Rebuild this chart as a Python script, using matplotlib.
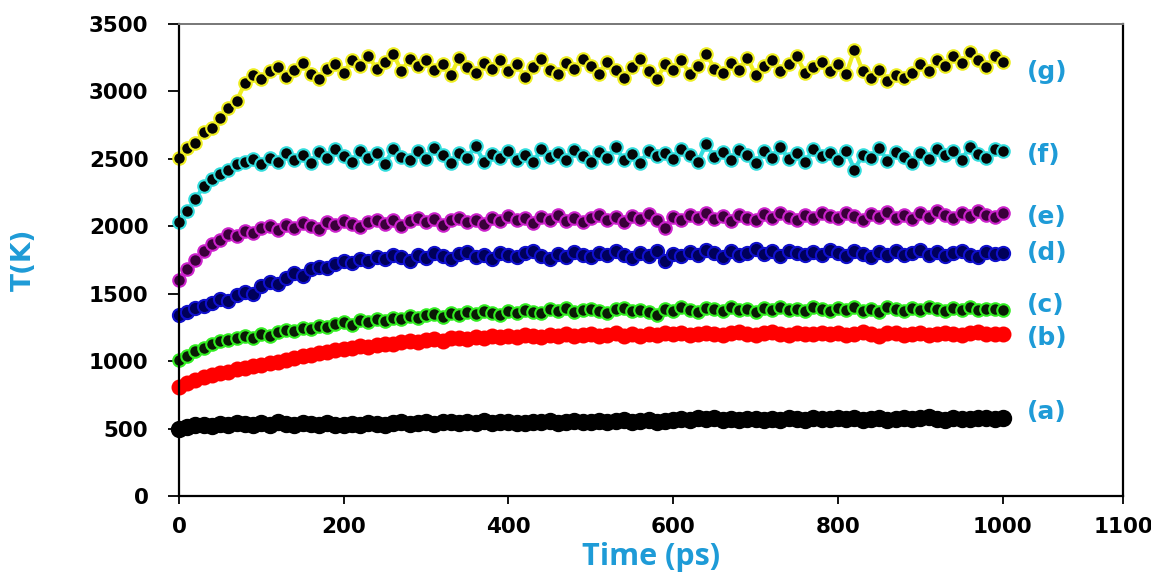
import matplotlib
matplotlib.use('Agg')
import matplotlib.pyplot as plt
import numpy as np

# time axis (ps), one sample every 10 ps
time_ps = np.arange(0, 1001, 10)

# temperature traces (K)
T_a = [500, 515, 525, 530, 520, 535, 528, 540, 532, 525,
       538, 530, 545, 535, 528, 540, 533, 526, 538, 530,
       524, 536, 529, 541, 533, 527, 539, 545, 532, 540,
       548, 537, 552, 545, 538, 550, 543, 556, 540, 548,
       552, 544, 538, 550, 546, 553, 541, 549, 556, 545,
       551, 558, 546, 553, 560, 548, 555, 562, 551, 558,
       565, 572, 560, 578, 568, 575, 563, 570, 566, 574,
       568, 561, 573, 566, 578, 570, 562, 575, 568, 572,
       580, 569, 576, 564, 571, 578, 567, 574, 580, 570,
       576, 585, 571, 566, 579, 573, 568, 581, 575, 570,
       578]
T_b = [805, 838, 862, 880, 900, 915, 922, 940, 948, 962,
       972, 985, 995, 1012, 1020, 1038, 1045, 1060, 1070, 1082,
       1090, 1098, 1110, 1105, 1122, 1130, 1126, 1140, 1148, 1142,
       1155, 1162, 1150, 1168, 1175, 1165, 1180, 1172, 1185, 1178,
       1190, 1182, 1195, 1186, 1178, 1192, 1188, 1198, 1185, 1194,
       1200, 1188, 1196, 1205, 1190, 1198, 1185, 1202, 1195, 1208,
       1198, 1210, 1195, 1204, 1212, 1200, 1192, 1206, 1215, 1200,
       1196, 1208, 1218, 1202, 1195, 1210, 1204, 1198, 1212, 1200,
       1207, 1195, 1203, 1214, 1198, 1190, 1205, 1211, 1196, 1202,
       1208, 1194, 1200, 1212, 1203, 1196, 1209, 1215, 1198, 1204,
       1200]
T_c = [1005, 1040, 1075, 1100, 1130, 1148, 1160, 1175, 1185, 1170,
       1200, 1190, 1215, 1228, 1220, 1245, 1238, 1260, 1252, 1275,
       1290, 1270, 1305, 1292, 1315, 1300, 1322, 1310, 1335, 1318,
       1340, 1352, 1330, 1360, 1345, 1368, 1350, 1372, 1358, 1345,
       1375, 1360, 1382, 1368, 1355, 1385, 1370, 1392, 1362, 1378,
       1390, 1372, 1358, 1385, 1396, 1370, 1382, 1365, 1340, 1388,
       1375, 1398, 1380, 1366, 1392, 1385, 1372, 1400, 1378, 1390,
       1368, 1395, 1382, 1405, 1376, 1390, 1370, 1398, 1385, 1372,
       1395, 1380, 1402, 1375, 1390, 1365, 1398, 1385, 1370, 1392,
       1378, 1400, 1385, 1370, 1395, 1382, 1405, 1376, 1390, 1385,
       1380]
T_d = [1340, 1365, 1395, 1410, 1430, 1460, 1445, 1490, 1515, 1500,
       1560, 1590, 1575, 1620, 1650, 1635, 1680, 1700, 1690, 1720,
       1745, 1725, 1760, 1740, 1775, 1755, 1790, 1770, 1745, 1785,
       1765, 1800, 1780, 1755, 1795, 1810, 1775, 1790, 1760, 1805,
       1785, 1770, 1800, 1815, 1780, 1760, 1795, 1775, 1810, 1790,
       1770, 1805, 1785, 1820, 1790, 1765, 1800, 1780, 1815, 1745,
       1795, 1780, 1810, 1785, 1825, 1800, 1775, 1815, 1790, 1805,
       1830, 1795, 1815, 1780, 1820, 1800, 1785, 1810, 1790, 1825,
       1800, 1780, 1815, 1795, 1770, 1810, 1790, 1820, 1785, 1805,
       1825, 1790, 1810, 1780, 1800, 1820, 1790, 1775, 1810, 1795,
       1805]
T_e = [1600, 1680, 1750, 1820, 1870, 1900, 1940, 1925, 1965, 1950,
       1985, 2000, 1970, 2010, 1990, 2025, 2005, 1980, 2030, 2010,
       2040, 2015, 1995, 2035, 2050, 2020, 2045, 2005, 2040, 2060,
       2030, 2055, 2010, 2045, 2065, 2035, 2050, 2020, 2060, 2040,
       2075, 2045, 2060, 2025, 2070, 2050, 2085, 2040, 2065, 2030,
       2060, 2080, 2045, 2070, 2035, 2075, 2055, 2090, 2050, 1990,
       2070, 2045, 2080, 2060, 2095, 2055, 2075, 2040, 2085, 2065,
       2050, 2090, 2065, 2100, 2070, 2045, 2085, 2060, 2095, 2075,
       2060, 2100, 2075, 2050, 2090, 2070, 2105, 2065, 2085, 2055,
       2095, 2070, 2110, 2080, 2060, 2100, 2075, 2115, 2085, 2070,
       2095]
T_f = [2030, 2110, 2200, 2300, 2350, 2390, 2420, 2460, 2480, 2500,
       2460, 2510, 2480, 2540, 2495, 2530, 2470, 2550, 2510, 2575,
       2520, 2480, 2560, 2505, 2540, 2465, 2570, 2515, 2490, 2555,
       2500, 2580, 2525, 2470, 2545, 2510, 2595, 2480, 2535, 2505,
       2560, 2490, 2530, 2475, 2575, 2515, 2545, 2495, 2565, 2520,
       2480, 2550, 2510, 2585, 2495, 2535, 2470, 2560, 2520, 2545,
       2500, 2575, 2525, 2480, 2610, 2515, 2550, 2490, 2565, 2530,
       2470, 2555, 2510, 2590, 2500, 2540, 2480, 2570, 2520, 2545,
       2495, 2560, 2420, 2530, 2505, 2580, 2485, 2550, 2515, 2470,
       2545, 2500, 2575, 2525, 2560, 2490, 2590, 2535, 2510, 2570,
       2555]
T_g = [2505, 2580, 2620, 2700, 2730, 2800, 2880, 2930, 3060, 3120,
       3090, 3150, 3180, 3110, 3160, 3210, 3130, 3090, 3170, 3200,
       3140, 3230, 3190, 3260, 3170, 3220, 3280, 3150, 3240, 3190,
       3230, 3160, 3200, 3120, 3250, 3180, 3140, 3210, 3170, 3230,
       3150, 3200, 3110, 3180, 3240, 3160, 3130, 3210, 3170, 3240,
       3190, 3130, 3220, 3160, 3100, 3180, 3240, 3150, 3090, 3200,
       3160, 3230, 3130, 3190, 3280, 3170, 3140, 3210, 3160, 3250,
       3120, 3190, 3230, 3150, 3200, 3260, 3140, 3180, 3220, 3150,
       3200, 3130, 3310, 3150, 3100, 3160, 3080, 3120, 3100, 3140,
       3200, 3150, 3230, 3190, 3260, 3210, 3290, 3230, 3180, 3260,
       3220]

series_T = [T_a, T_b, T_c, T_d, T_e, T_f, T_g]
series_labels = ['(a)', '(b)', '(c)', '(d)', '(e)', '(f)', '(g)']
label_T = [623, 1171, 1416, 1801, 2068, 2528, 3143]

# x tick labels (the original axis puts 1100 at the right frame edge)
xtick_labels = ['0', '200', '400', '600', '800', '1000', '1100']
ytick_vals = [0, 500, 1000, 1500, 2000, 2500, 3000, 3500]

# line colour, marker face, marker edge, marker size
styles = [('black', 'black', 'black', 11),
          ('#ff1010', '#ff0000', '#ff0000', 10),
          ('#33ee22', '#0a1a05', '#33ee22', 9),
          ('#0000ee', '#00005a', '#1010cc', 9.5),
          ('#cc22cc', '#3a003a', '#cc22cc', 9),
          ('#33dddd', '#050505', '#33dddd', 9),
          ('#eeee22', '#050505', '#eeee22', 9)]

blue_txt = '#1e9bd7'
x_right = 1146

fig = plt.figure(figsize=(11.51, 5.77), dpi=100)
ax = fig.add_axes([0.1555, 0.1404, 0.8202, 0.818])

for T, (lc, fc, ec, ms) in zip(series_T, styles):
    ax.plot(time_ps, T, '-o', color=lc, lw=3, ms=ms,
            markerfacecolor=fc, markeredgecolor=ec, markeredgewidth=1.5,
            clip_on=False)

for lab, ty in zip(series_labels, label_T):
    ax.text(1029, ty, lab, color=blue_txt, fontsize=18, fontweight='bold',
            ha='left', va='center')

ax.set_xlim(0, x_right)
ax.set_ylim(0, 3500)
ax.set_xticks([0, 200, 400, 600, 800, 1000, x_right])
ax.set_xticklabels(xtick_labels)
ax.set_yticks(ytick_vals)
ax.tick_params(axis='x', direction='out', length=6, width=1.3, pad=9,
               labelsize=15.5)
ax.tick_params(axis='y', direction='out', length=8, width=1.3, pad=14,
               labelsize=15.5)
for t in ax.get_xticklabels() + ax.get_yticklabels():
    t.set_fontweight('bold')

for s in ['left', 'bottom', 'right']:
    ax.spines[s].set_linewidth(1.6)
    ax.spines[s].set_color('black')
ax.spines['top'].set_color('#777777')
ax.spines['top'].set_linewidth(1.4)

ax.set_xlabel('Time (ps)', color=blue_txt, fontsize=22, fontweight='bold',
              family='Open Sans', labelpad=4)
ax.set_ylabel('T(K)', color=blue_txt, fontsize=19, fontweight='bold')
ax.yaxis.set_label_coords(-0.15, 0.5)

plt.savefig('out.png', dpi=100)
plt.close('all')
